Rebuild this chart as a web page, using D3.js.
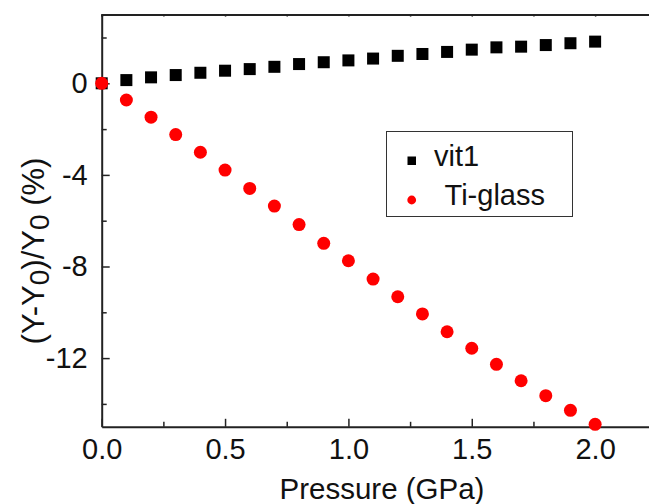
<!DOCTYPE html>
<html>
<head>
<meta charset="utf-8">
<script src="https://cdn.jsdelivr.net/npm/d3@7"></script>
<style>
  body { margin: 0; background: #fff; }
  svg { display: block; font-family: "Liberation Sans", Arial, sans-serif; }
</style>
</head>
<body>
<svg id="chart" width="649" height="504"></svg>
<script>
// pressure steps (GPa)
const pressure = [0, 0.1, 0.2, 0.3, 0.4, 0.5, 0.6, 0.7, 0.8, 0.9, 1.0,
                  1.1, 1.2, 1.3, 1.4, 1.5, 1.6, 1.7, 1.8, 1.9, 2.0];
// relative change (%)
const vit1 = [0, 0.14, 0.26, 0.36, 0.46, 0.55, 0.62, 0.72, 0.84, 0.92, 1.0,
              1.08, 1.2, 1.28, 1.37, 1.47, 1.57, 1.6, 1.67, 1.75, 1.82];
const tiGlass = [0, -0.73, -1.48, -2.24, -3.01, -3.79, -4.59, -5.36, -6.17, -6.99, -7.75,
                 -8.55, -9.32, -10.07, -10.85, -11.57, -12.27, -12.99, -13.64, -14.28, -14.89];
const xMajor = [0, 0.5, 1.0, 1.5, 2.0];
const xMinor = [0.25, 0.75, 1.25, 1.75];
const yMajor = [0, -4, -8, -12];
const yMinor = [2, -2, -6, -10, -14];
const seriesNames = ['vit1', ' Ti-glass'];

const svg = d3.select('#chart');
const x = d3.scaleLinear().domain([0, 2.25]).range([101.7, 656.8]);
const y = d3.scaleLinear().domain([-15, 3]).range([426.8, 14.6]);

// minor ticks first (no labels)
svg.append('g')
    .attr('transform', `translate(0,${y(-15)})`)
    .call(d3.axisBottom(x).tickValues(xMinor).tickSize(-5).tickFormat(''))
    .call(g => g.select('.domain').remove());
svg.append('g')
    .attr('transform', `translate(${x(0)},0)`)
    .call(d3.axisLeft(y).tickValues(yMinor).tickSize(-5).tickFormat(''))
    .call(g => g.select('.domain').remove());
// top axis, tiny ticks
svg.append('g')
    .attr('transform', `translate(0,${y(3)})`)
    .call(d3.axisTop(x).tickValues(xMajor.concat(xMinor)).tickSize(-2).tickFormat(''))
    .call(g => g.select('.domain').attr('stroke-width', 2).attr('stroke', '#222'));

const xAxis = svg.append('g')
    .attr('transform', `translate(0,${y(-15)})`)
    .call(d3.axisBottom(x).tickValues(xMajor).tickSize(-8).tickPadding(12).tickSizeOuter(0)
        .tickFormat(d3.format('.1f')));
const yAxis = svg.append('g')
    .attr('transform', `translate(${x(0)},0)`)
    .call(d3.axisLeft(y).tickValues(yMajor).tickSize(-8).tickPadding(14).tickSizeOuter(0)
        .tickFormat(d => d));

[xAxis, yAxis].forEach(g => {
    g.select('.domain').attr('stroke-width', 2).attr('stroke', '#222');
    g.selectAll('text').attr('font-size', 29).attr('fill', '#111')
        .attr('font-family', '"Liberation Sans", Arial, sans-serif');
});
svg.selectAll('.tick line').attr('stroke', '#222').attr('stroke-width', 1.5);

// series
svg.append('g').selectAll('rect')
    .data(pressure.map((p, i) => [p, vit1[i]]))
    .join('rect')
    .attr('x', d => x(d[0]) - 6)
    .attr('y', d => y(d[1]) - 6)
    .attr('width', 12).attr('height', 12)
    .attr('fill', '#000');

svg.append('g').selectAll('circle')
    .data(pressure.map((p, i) => [p, tiGlass[i]]))
    .join('circle')
    .attr('cx', d => x(d[0]))
    .attr('cy', d => y(d[1]))
    .attr('r', 6.5)
    .attr('fill', '#ff0000');

// legend
const lg = svg.append('g');
lg.append('rect')
    .attr('x', 386.5).attr('y', 131.5).attr('width', 186).attr('height', 85)
    .attr('fill', '#fff').attr('stroke', '#333').attr('stroke-width', 1);
lg.append('rect').attr('x', 407.5).attr('y', 156.5).attr('width', 8.5).attr('height', 8.5).attr('fill', '#000');
lg.append('circle').attr('cx', 411.7).attr('cy', 200).attr('r', 4.4).attr('fill', '#ff0000');
lg.selectAll('text.lab')
    .data(seriesNames)
    .join('text')
    .attr('class', 'lab')
    .attr('x', (d, i) => 434 + i * 3)
    .attr('y', (d, i) => 166 + i * 39)
    .attr('font-size', 29)
    .attr('fill', '#111')
    .attr('xml:space', 'preserve')
    .style('white-space', 'pre')
    .text(d => d);

// axis titles
svg.append('text')
    .attr('x', 382).attr('y', 499)
    .attr('text-anchor', 'middle')
    .attr('font-size', 29.5).attr('fill', '#111')
    .text('Pressure (GPa)');

const yl = svg.append('text')
    .attr('transform', 'translate(44,251) rotate(-90)')
    .attr('text-anchor', 'middle')
    .attr('font-size', 31).attr('fill', '#111');
yl.append('tspan').text('(Y-Y');
yl.append('tspan').attr('dy', 5).attr('font-size', 28).text('0');
yl.append('tspan').attr('dy', -5).text(')/Y');
yl.append('tspan').attr('dy', 5).attr('font-size', 28).text('0');
yl.append('tspan').attr('dy', -5).text(' (%)');
</script>
</body>
</html>
